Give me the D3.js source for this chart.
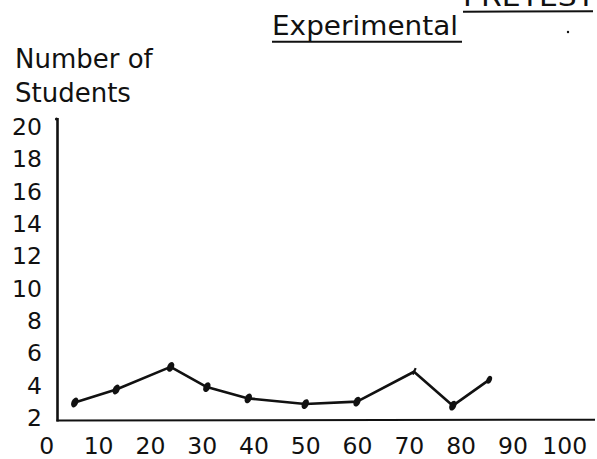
<!DOCTYPE html>
<html>
<head>
<meta charset="utf-8">
<script src="https://cdn.jsdelivr.net/npm/d3@7/dist/d3.min.js"></script>
<style>
  html, body { margin: 0; padding: 0; background: #fff; }
  svg { display: block; }
  text { font-family: "DejaVu Sans", sans-serif; fill: #111; }
</style>
</head>
<body>
<svg id="chart" width="597" height="459"></svg>
<script>
// ---- data ----
const scores   = [5.5, 13.5, 24, 31, 39, 50, 60, 71, 78.5, 85.5];
const students = [2.9, 3.7, 5.1, 3.85, 3.15, 2.8, 2.95, 4.8, 2.7, 4.3];
const xTicks   = [0, 10, 20, 30, 40, 50, 60, 70, 80, 90, 100];
const yTicks   = [2, 4, 6, 8, 10, 12, 14, 16, 18, 20];
const yLabelLines = ["Number of", "Students"];
const titleText = "Experimental";
const cornerText = "PRETEST";

// ---- layout ----
const svg = d3.select("#chart");
const ink = "#111";

const x = d3.scaleLinear().domain([0, 100]).range([46.3, 564.2]);
const y = d3.scaleLinear().domain([2, 20]).range([417, 126]);

// axis lines (frame)
const axisX0 = 57.5, axisYTop = 118, axisYBottom = 420.5, axisXRight = 595;
svg.append("line")
  .attr("x1", axisX0).attr("y1", axisYTop)
  .attr("x2", axisX0).attr("y2", axisYBottom + 1)
  .attr("stroke", ink).attr("stroke-width", 2.6);
svg.append("line")
  .attr("x1", axisX0 - 1).attr("y1", axisYBottom)
  .attr("x2", axisXRight).attr("y2", axisYBottom - 0.8)
  .attr("stroke", ink).attr("stroke-width", 2);
svg.append("circle").attr("cx", axisX0 - 1).attr("cy", axisYTop + 1).attr("r", 1.6).attr("fill", ink);

// x tick labels
const gx = svg.append("g")
  .attr("transform", `translate(0,${437.5})`)
  .call(d3.axisBottom(x).tickValues(xTicks).tickSize(0).tickPadding(0).tickFormat(d3.format("d")));
gx.select(".domain").remove();
gx.selectAll("text")
  .attr("font-family", "DejaVu Sans, sans-serif")
  .attr("font-size", 23.5)
  .attr("fill", ink);

// y tick labels
const gy = svg.append("g")
  .attr("transform", `translate(${42},0)`)
  .call(d3.axisLeft(y).tickValues(yTicks).tickSize(0).tickPadding(0).tickFormat(d3.format("d")));
gy.select(".domain").remove();
gy.selectAll("text")
  .attr("font-family", "DejaVu Sans, sans-serif")
  .attr("font-size", 23.5)
  .attr("fill", ink)
  .attr("dy", "0.36em");

// y axis title
svg.append("g").selectAll("text")
  .data(yLabelLines)
  .join("text")
  .attr("x", 15)
  .attr("y", (d, i) => 68 + i * 33.5)
  .attr("font-size", 26)
  .text(d => d);

// title
svg.append("text")
  .attr("x", 272).attr("y", 35)
  .attr("font-size", 26)
  .attr("textLength", 186).attr("lengthAdjust", "spacingAndGlyphs")
  .text(titleText);
svg.append("line")
  .attr("x1", 272).attr("y1", 41.7).attr("x2", 462).attr("y2", 41.7)
  .attr("stroke", ink).attr("stroke-width", 2);

// cut-off corner label (cropped at the top edge, as in the reference)
svg.append("text")
  .attr("x", 463).attr("y", 5.5)
  .attr("font-family", "DejaVu Serif, serif")
  .attr("font-size", 26)
  .attr("textLength", 132).attr("lengthAdjust", "spacingAndGlyphs")
  .text(cornerText);
svg.append("line")
  .attr("x1", 463).attr("y1", 11.7).attr("x2", 593).attr("y2", 11.3)
  .attr("stroke", ink).attr("stroke-width", 2);
svg.append("circle").attr("cx", 568).attr("cy", 32).attr("r", 1.2).attr("fill", ink);

// data line
const pts = scores.map((s, i) => [s, students[i]]);
svg.append("path")
  .datum(pts)
  .attr("fill", "none")
  .attr("stroke", ink)
  .attr("stroke-width", 2.6)
  .attr("stroke-linejoin", "round")
  .attr("d", d3.line().x(d => x(d[0])).y(d => y(d[1])));

// markers
svg.append("g").selectAll("g.mk")
  .data(pts)
  .join("g")
  .attr("class", "mk")
  .attr("transform", d => `translate(${x(d[0])},${y(d[1])}) rotate(25)`)
  .each(function(d, i) {
    const g = d3.select(this);
    if (i === 7) {
      g.append("line").attr("x1", 0).attr("y1", -4).attr("x2", 0).attr("y2", 3)
        .attr("stroke", ink).attr("stroke-width", 2.2);
    } else if (i === pts.length - 1) {
      g.append("ellipse").attr("rx", 2.6).attr("ry", 4.2).attr("fill", ink);
    } else {
      g.append("ellipse").attr("rx", 3.3).attr("ry", 5.2).attr("fill", ink);
    }
  });
</script>
</body>
</html>
